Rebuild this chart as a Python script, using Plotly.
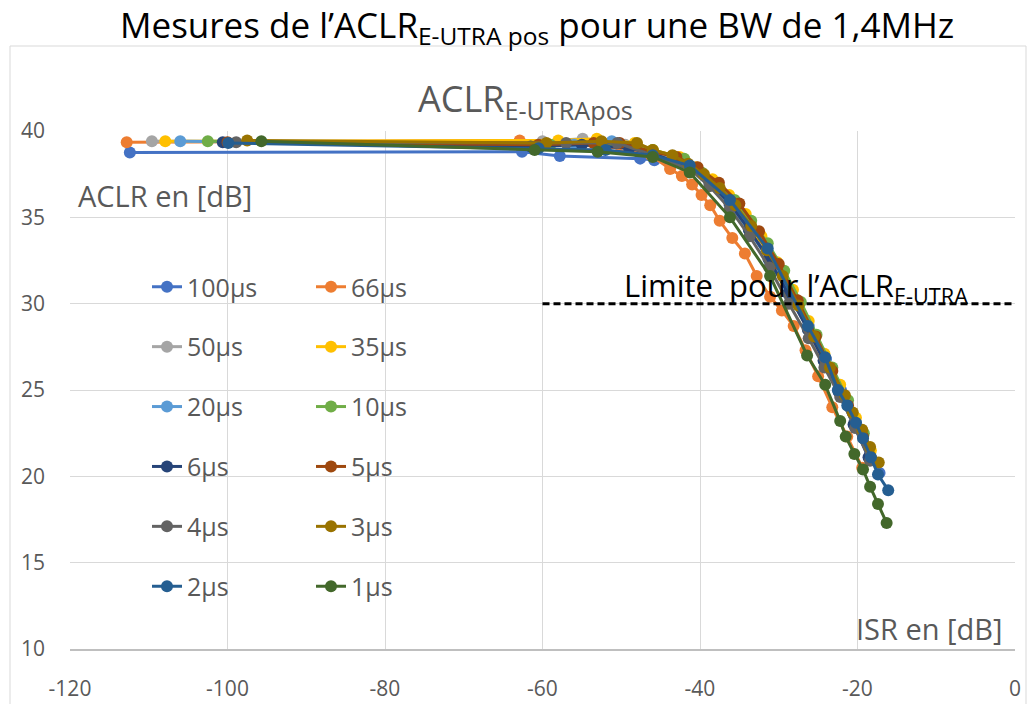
import plotly.graph_objects as go

# ---- series data: ISR [dB] vs ACLR [dB] per time constant ----
series_names = ["100μs", "66μs", "50μs", "35μs", "20μs", "10μs",
                "6μs", "5μs", "4μs", "3μs", "2μs", "1μs"]

isr_100us = [-112.4, -62.6, -57.8, -47.6, -45.8, -41.0, -38.5, -36.0, -33.5, -31.0, -28.6, -26.2, -24.0, -22.1, -20.2, -18.4, -17.2]
aclr_100us = [38.75, 38.8, 38.55, 38.4, 38.3, 37.8, 36.9, 35.7, 34.2, 32.4, 30.6, 28.7, 26.8, 25.0, 23.1, 21.3, 20.2]

isr_66us = [-112.8, -62.9, -55.5, -50.0, -46.2, -43.8, -42.3, -41.0, -39.8, -38.7, -37.5, -35.9, -34.3, -32.8, -31.1, -29.6, -28.1, -26.6, -25.0, -23.2, -21.3, -19.4]
aclr_66us = [39.35, 39.45, 39.2, 39.0, 38.6, 37.8, 37.4, 36.9, 36.3, 35.7, 34.8, 33.8, 32.9, 31.6, 30.4, 29.6, 28.7, 27.3, 25.8, 24.0, 22.3, 20.5]

isr_50us = [-109.6, -60.0, -54.9, -49.5, -46.0, -43.5, -41.2, -38.8, -36.3, -33.8, -31.3, -28.8, -26.3, -24.3, -22.3, -20.4, -18.5]
aclr_50us = [39.4, 39.4, 39.55, 39.2, 38.8, 38.4, 37.9, 37.0, 35.8, 34.3, 32.6, 30.6, 28.5, 26.7, 24.9, 23.0, 21.1]

isr_35us = [-107.9, -58.0, -53.1, -48.3, -46.0, -42.6, -40.5, -38.4, -36.3, -34.2, -32.2, -30.2, -28.2, -26.2, -24.2, -22.2, -20.2, -18.3]
aclr_35us = [39.4, 39.45, 39.55, 39.3, 38.9, 38.5, 37.9, 37.2, 36.3, 35.2, 33.9, 32.4, 30.8, 29.0, 27.1, 25.3, 23.4, 21.5]

isr_20us = [-106.0, -56.0, -51.2, -46.0, -41.3, -38.7, -36.2, -33.7, -31.2, -28.7, -26.2, -24.2, -22.3, -20.3, -18.4]
aclr_20us = [39.4, 39.2, 39.4, 38.7, 37.9, 36.9, 35.7, 34.2, 32.5, 30.5, 28.5, 26.7, 24.9, 23.0, 21.1]

isr_10us = [-102.5, -59.0, -52.5, -46.0, -42.0, -39.8, -37.7, -35.6, -33.5, -31.4, -29.3, -27.2, -25.2, -23.2, -21.2, -19.2]
aclr_10us = [39.4, 39.2, 39.3, 38.9, 38.4, 37.6, 36.9, 36.0, 34.8, 33.5, 31.9, 30.1, 28.2, 26.3, 24.4, 22.5]

isr_6us = [-100.6, -61.5, -55.0, -49.0, -46.0, -41.3, -38.8, -36.2, -33.8, -31.3, -28.8, -26.3, -24.3, -22.4, -20.5, -18.6]
aclr_6us = [39.35, 39.1, 39.2, 39.0, 38.7, 37.9, 37.0, 35.8, 34.3, 32.6, 30.6, 28.5, 26.7, 24.9, 23.0, 21.1]

isr_5us = [-100.0, -60.5, -53.5, -50.2, -46.0, -43.0, -40.3, -37.6, -35.0, -32.5, -30.0, -27.6, -25.3, -23.2, -21.2, -19.3]
aclr_5us = [39.35, 39.2, 39.3, 39.3, 38.8, 38.5, 37.9, 37.0, 35.8, 34.2, 32.3, 30.2, 28.1, 26.1, 24.1, 22.3]

isr_4us = [-98.9, -57.0, -50.5, -46.0, -41.3, -38.8, -36.2, -33.7, -31.2, -28.7, -26.2, -24.2, -22.2, -20.3, -18.4]
aclr_4us = [39.35, 39.3, 39.3, 38.6, 37.8, 36.8, 35.5, 33.9, 32.1, 30.0, 28.0, 26.3, 24.6, 22.8, 20.9]

isr_3us = [-97.5, -59.5, -52.5, -48.0, -46.0, -43.5, -41.5, -39.5, -37.5, -35.5, -33.5, -31.5, -29.5, -27.5, -25.5, -23.5, -21.6, -20.6, -19.4, -18.4, -17.3]
aclr_3us = [39.45, 39.3, 39.4, 39.3, 38.9, 38.6, 38.1, 37.5, 36.7, 35.7, 34.5, 33.1, 31.6, 29.9, 28.1, 26.3, 24.7, 23.7, 22.7, 21.7, 20.8]

isr_2us = [-99.9, -60.5, -52.0, -46.0, -41.3, -36.2, -31.4, -26.3, -24.1, -22.5, -21.3, -20.2, -19.3, -18.3, -17.4, -16.1]
aclr_2us = [39.3, 39.0, 38.9, 38.6, 38.0, 36.0, 33.2, 28.7, 26.9, 25.0, 24.1, 23.1, 22.2, 21.1, 20.1, 19.2]

isr_1us = [-95.7, -61.0, -53.0, -46.0, -41.3, -36.2, -31.1, -26.4, -24.1, -22.2, -21.5, -20.4, -19.3, -18.4, -17.4, -16.3]
aclr_1us = [39.4, 38.9, 38.8, 38.5, 37.6, 35.0, 31.6, 27.0, 25.3, 23.2, 22.3, 21.3, 20.4, 19.4, 18.4, 17.3]

# ACLR limit line
limit_isr = [-60, 0]
limit_aclr = [30, 30]

# axis ticks
x_ticks = [-120, -100, -80, -60, -40, -20, 0]
x_tick_labels = ["-120", "-100", "-80", "-60", "-40", "-20", "0"]
y_ticks = [10, 15, 20, 25, 30, 35, 40]
y_tick_labels = ["10", "15", "20", "25", "30", "35", "40"]

series_isr = [isr_100us, isr_66us, isr_50us, isr_35us, isr_20us, isr_10us,
              isr_6us, isr_5us, isr_4us, isr_3us, isr_2us, isr_1us]
series_aclr = [aclr_100us, aclr_66us, aclr_50us, aclr_35us, aclr_20us, aclr_10us,
               aclr_6us, aclr_5us, aclr_4us, aclr_3us, aclr_2us, aclr_1us]
colors = ["#4472C4", "#ED7D31", "#A5A5A5", "#FFC000", "#5B9BD5", "#70AD47",
          "#264478", "#9E480E", "#636363", "#997300", "#255E91", "#43682B"]

FONT = "Open Sans"
GREY = "#595959"
W, H = 1029, 704
L, R, T, B = 70, 14, 131, 55
PW, PH = W - L - R, H - T - B


def px_x(p):
    return (p - L) / PW


def px_y(p):
    return (H - B - p) / PH


fig = go.Figure()

for i, (name, xs, ys, col) in enumerate(zip(series_names, series_isr, series_aclr, colors)):
    fig.add_trace(go.Scatter(
        x=xs, y=ys, name=name, mode="lines+markers",
        line=dict(color=col, width=3),
        marker=dict(color=col, size=12),
        legend="legend" if i % 2 == 0 else "legend2",
        legendgroup=name,
    ))

fig.add_trace(go.Scatter(
    x=limit_isr, y=limit_aclr, mode="lines", showlegend=False,
    line=dict(color="black", width=3, dash="7px,4px"), hoverinfo="skip",
))

legend_common = dict(
    xanchor="left", yanchor="top", bgcolor="rgba(0,0,0,0)",
    font=dict(family=FONT, size=25, color=GREY),
    tracegroupgap=24.4, itemwidth=30, traceorder="grouped",
)

fig.update_layout(
    width=W, height=H,
    margin=dict(l=L, r=R, t=T, b=B, autoexpand=False),
    paper_bgcolor="white", plot_bgcolor="white",
    font=dict(family=FONT, color=GREY),
    legend=dict(x=px_x(147), y=px_y(264), **legend_common),
    legend2=dict(x=px_x(311), y=px_y(264), **legend_common),
    xaxis=dict(
        range=[-120, 0], tickvals=x_ticks, ticktext=x_tick_labels, showgrid=True,
        gridcolor="#D9D9D9", gridwidth=1, zeroline=False, showline=True,
        linecolor="#BFBFBF", linewidth=1.5, ticks="", automargin=False,
        tickfont=dict(family=FONT, size=21, color=GREY), ticklabelstandoff=20,
    ),
    yaxis=dict(
        range=[10, 40], tickvals=y_ticks, ticktext=y_tick_labels, showgrid=True,
        gridcolor="#D9D9D9", gridwidth=1, zeroline=False, showline=False,
        ticks="", automargin=False,
        tickfont=dict(family=FONT, size=21, color=GREY), ticklabelstandoff=24,
    ),
    shapes=[dict(
        type="rect", xref="paper", yref="paper",
        x0=px_x(10), x1=px_x(1026), y0=px_y(720), y1=px_y(46),
        line=dict(color="#D9D9D9", width=1), layer="below",
    )],
    annotations=[
        dict(text="Mesures de l’ACLR<sub>E-UTRA pos</sub> pour une BW de 1,4MHz",
             x=px_x(537), y=px_y(27), xref="paper", yref="paper",
             xanchor="center", yanchor="middle", showarrow=False,
             font=dict(family=FONT, size=35, color="black")),
        dict(text="ACLR<sub>E-UTRApos</sub>",
             x=px_x(525), y=px_y(100), xref="paper", yref="paper",
             xanchor="center", yanchor="middle", showarrow=False,
             font=dict(family=FONT, size=36, color=GREY)),
        dict(text="ACLR en [dB]",
             x=px_x(76), y=px_y(195), xref="paper", yref="paper",
             xanchor="left", yanchor="middle", showarrow=False,
             font=dict(family=FONT, size=29, color=GREY)),
        dict(text="ISR en [dB]",
             x=px_x(1005), y=px_y(628), xref="paper", yref="paper",
             xanchor="right", yanchor="middle", showarrow=False,
             font=dict(family=FONT, size=29, color=GREY)),
        dict(text="Limite&nbsp; pour l’ACLR<sub>E-UTRA</sub>",
             x=px_x(622), y=px_y(287), xref="paper", yref="paper",
             xanchor="left", yanchor="middle", showarrow=False,
             font=dict(family=FONT, size=31, color="black")),
    ],
)

fig.write_html("out.html")
